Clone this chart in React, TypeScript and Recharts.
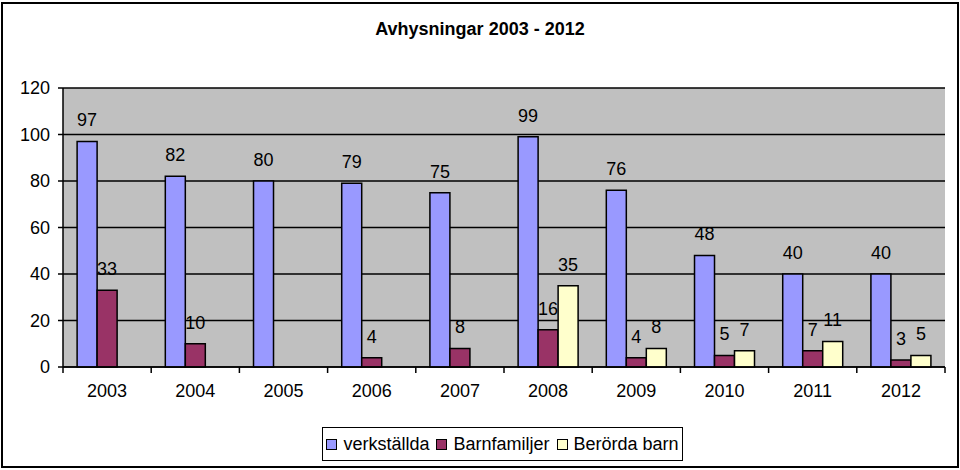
import { BarChart, Bar, XAxis, YAxis, CartesianGrid, LabelList } from "recharts";

const years = ["2003", "2004", "2005", "2006", "2007", "2008", "2009", "2010", "2011", "2012"];
const verkstallda = [97, 82, 80, 79, 75, 99, 76, 48, 40, 40];
const barnfamiljer = [33, 10, null, 4, 8, 16, 4, 5, 7, 3];
const berordaBarn = [null, null, null, null, null, 35, 8, 7, 11, 5];
const yTicks = [0, 20, 40, 60, 80, 100, 120];

const SERIES = [
  { key: "verkstallda", name: "verkställda", color: "#9999FF" },
  { key: "barnfamiljer", name: "Barnfamiljer", color: "#993366" },
  { key: "berordaBarn", name: "Berörda barn", color: "#FFFFCC" },
];

const data = years.map((year, i) => ({
  year,
  verkstallda: verkstallda[i],
  barnfamiljer: barnfamiljer[i],
  berordaBarn: berordaBarn[i],
}));

const FONT = "'Liberation Sans', Arial, sans-serif";

function YearTick(props: any) {
  const { x, y, payload, index, visibleTicksCount } = props;
  const half = payload?.offset ?? 44;
  const axisY = y - 8;
  return (
    <g>
      <line x1={x - half} y1={axisY} x2={x - half} y2={axisY + 6} stroke="#000" strokeWidth={1.5} />
      {index === visibleTicksCount - 1 && (
        <line x1={x + half} y1={axisY} x2={x + half} y2={axisY + 6} stroke="#000" strokeWidth={1.5} />
      )}
      <text x={x} y={y + 9} dy="0.71em" textAnchor="middle" fontSize={18} fill="#000" fontFamily={FONT}>
        {payload.value}
      </text>
    </g>
  );
}

export default function App() {
  return (
    <div style={{ position: "absolute", left: 0, top: 0, width: 960, height: 470, fontFamily: FONT, background: "#fff" }}>
      <div
        style={{
          position: "absolute",
          left: 1,
          top: 2,
          width: 954,
          height: 462,
          border: "2px solid #000",
        }}
      />
      <div
        style={{
          position: "absolute",
          left: 0,
          top: 19,
          width: 960,
          textAlign: "center",
          fontSize: 18,
          fontWeight: "bold",
        }}
      >
        Avhysningar 2003 - 2012
      </div>

      <BarChart
        width={960}
        height={470}
        data={data}
        margin={{ top: 88, right: 15, bottom: 73, left: 0 }}
        barCategoryGap="16%"
        barGap={0}
        style={{ position: "absolute", left: 0, top: 0 }}
      >
        <CartesianGrid vertical={false} stroke="#000" strokeWidth={1.5} fill="#C0C0C0" />
        <XAxis
          dataKey="year"
          height={30}
          tickSize={6}
          tickMargin={2}
          tickLine={false}
          axisLine={{ stroke: "#000", strokeWidth: 1.5 }}
          tick={<YearTick />}
          interval={0}
        />
        <YAxis
          width={63}
          domain={[0, 120]}
          ticks={yTicks}
          tickSize={5}
          tickMargin={8}
          axisLine={{ stroke: "#000", strokeWidth: 1.5 }}
          tickLine={{ stroke: "#000", strokeWidth: 1.5 }}
          tick={{ fill: "#000", fontSize: 18, fontFamily: FONT }}
        />
        {SERIES.map((s) => (
          <Bar
            key={s.key}
            dataKey={s.key}
            name={s.name}
            fill={s.color}
            stroke="#000"
            strokeWidth={1.5}
            isAnimationActive={false}
          >
            <LabelList dataKey={s.key} position="top" offset={15} fill="#000" fontSize={18} fontFamily={FONT} />
          </Bar>
        ))}
      </BarChart>

      <div
        style={{
          position: "absolute",
          left: 322,
          top: 427,
          width: 359,
          height: 32,
          border: "1.5px solid #000",
          display: "flex",
          alignItems: "center",
          justifyContent: "center",
          gap: 7,
          fontSize: 18,
          background: "#fff",
        }}
      >
        {SERIES.map((s) => (
          <span key={s.key} style={{ display: "inline-flex", alignItems: "center", gap: 6 }}>
            <span style={{ width: 9, height: 9, background: s.color, border: "1px solid #000", display: "inline-block" }} />
            {s.name}
          </span>
        ))}
      </div>
    </div>
  );
}
